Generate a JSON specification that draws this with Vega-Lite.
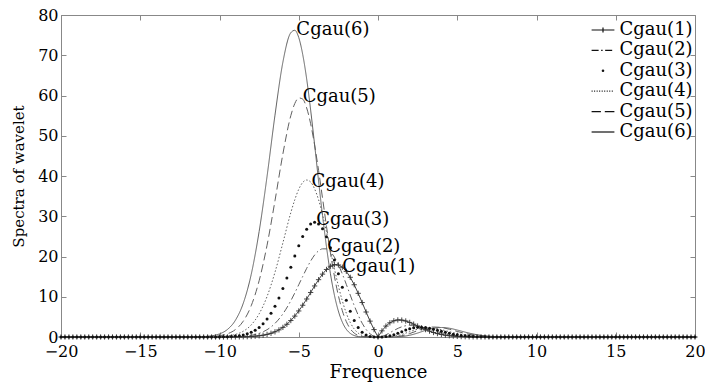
{
"$schema": "https://vega.github.io/schema/vega-lite/v6.json",
"width": 634,
"height": 322,
"autosize": {"type": "none"},
"padding": {"left": 61, "top": 15, "right": 10, "bottom": 48},
"background": "white",
"config": {
  "view": {"stroke": "#888", "strokeWidth": 1},
  "font": "DejaVu Serif",
  "axis": {"labelFont": "DejaVu Serif", "labelFontSize": 16, "labelColor": "#000", "titleFont": "DejaVu Serif", "titleFontWeight": "normal", "titleColor": "#000", "domainColor": "#888", "tickColor": "#888", "grid": false, "tickSize": -5, "labelPadding": 8}
},
"datasets": {
  "m": [
    {"x":-20,"c1":0,"c3":0},{"x":-19.75,"c1":0,"c3":0},{"x":-19.5,"c1":0,"c3":0},{"x":-19.25,"c1":0,"c3":0},{"x":-19,"c1":0,"c3":0},{"x":-18.75,"c1":0,"c3":0},{"x":-18.5,"c1":0,"c3":0},{"x":-18.25,"c1":0,"c3":0},{"x":-18,"c1":0,"c3":0},{"x":-17.75,"c1":0,"c3":0},{"x":-17.5,"c1":0,"c3":0},{"x":-17.25,"c1":0,"c3":0},{"x":-17,"c1":0,"c3":0},{"x":-16.75,"c1":0,"c3":0},{"x":-16.5,"c1":0,"c3":0},{"x":-16.25,"c1":0,"c3":0},{"x":-16,"c1":0,"c3":0},{"x":-15.75,"c1":0,"c3":0},{"x":-15.5,"c1":0,"c3":0},{"x":-15.25,"c1":0,"c3":0},{"x":-15,"c1":0,"c3":0},{"x":-14.75,"c1":0,"c3":0},{"x":-14.5,"c1":0,"c3":0},{"x":-14.25,"c1":0,"c3":0},{"x":-14,"c1":0,"c3":0},{"x":-13.75,"c1":0,"c3":0},{"x":-13.5,"c1":0,"c3":0},{"x":-13.25,"c1":0,"c3":0},{"x":-13,"c1":0,"c3":0},{"x":-12.75,"c1":0,"c3":0},{"x":-12.5,"c1":0,"c3":0},{"x":-12.25,"c1":0,"c3":0},{"x":-12,"c1":0,"c3":0},{"x":-11.75,"c1":0,"c3":0},{"x":-11.5,"c1":0,"c3":0},{"x":-11.25,"c1":0,"c3":0},{"x":-11,"c1":0,"c3":0},{"x":-10.75,"c1":0,"c3":0},{"x":-10.5,"c1":0,"c3":0},{"x":-10.25,"c1":0,"c3":0.01},
    {"x":-10,"c1":0,"c3":0.03},{"x":-9.75,"c1":0,"c3":0.05},{"x":-9.5,"c1":0.01,"c3":0.08},{"x":-9.25,"c1":0.01,"c3":0.14},{"x":-9,"c1":0.02,"c3":0.22},{"x":-8.75,"c1":0.03,"c3":0.34},{"x":-8.5,"c1":0.05,"c3":0.52},{"x":-8.25,"c1":0.08,"c3":0.79},{"x":-8,"c1":0.13,"c3":1.16},{"x":-7.75,"c1":0.2,"c3":1.67},{"x":-7.5,"c1":0.3,"c3":2.37},{"x":-7.25,"c1":0.44,"c3":3.28},{"x":-7,"c1":0.65,"c3":4.45},{"x":-6.75,"c1":0.92,"c3":5.9},{"x":-6.5,"c1":1.29,"c3":7.65},{"x":-6.25,"c1":1.77,"c3":9.72},{"x":-6,"c1":2.39,"c3":12.06},{"x":-5.75,"c1":3.16,"c3":14.66},{"x":-5.5,"c1":4.09,"c3":17.36},{"x":-5.25,"c1":5.19,"c3":20.1},{"x":-5,"c1":6.47,"c3":22.7},{"x":-4.75,"c1":7.89,"c3":25.0},{"x":-4.5,"c1":9.44,"c3":26.8},{"x":-4.25,"c1":11.06,"c3":28.05},{"x":-4,"c1":12.68,"c3":28.5},{"x":-3.75,"c1":14.24,"c3":28.1},{"x":-3.5,"c1":15.62,"c3":26.9},{"x":-3.25,"c1":16.78,"c3":24.9},{"x":-3,"c1":17.58,"c3":22.2},{"x":-2.75,"c1":17.97,"c3":19.1},{"x":-2.5,"c1":17.89,"c3":15.7},{"x":-2.25,"c1":17.34,"c3":12.33},{"x":-2,"c1":16.31,"c3":9.16},{"x":-1.75,"c1":14.83,"c3":6.38},{"x":-1.5,"c1":12.98,"c3":4.1},{"x":-1.25,"c1":10.85,"c3":2.38},{"x":-1,"c1":8.56,"c3":1.2},{"x":-0.75,"c1":6.21,"c3":0.49},{"x":-0.5,"c1":3.94,"c3":0.14},{"x":-0.25,"c1":1.84,"c3":0.02},{"x":0,"c1":0,"c3":0},{"x":0.25,"c1":1.53,"c3":0.01},{"x":0.5,"c1":2.71,"c3":0.1},{"x":0.75,"c1":3.53,"c3":0.28},{"x":1,"c1":4.03,"c3":0.57},{"x":1.25,"c1":4.24,"c3":0.93},{"x":1.5,"c1":4.2,"c3":1.33},{"x":1.75,"c1":3.98,"c3":1.71},{"x":2,"c1":3.62,"c3":2.04},{"x":2.25,"c1":3.19,"c3":2.27},{"x":2.5,"c1":2.73,"c3":2.4},{"x":2.75,"c1":2.27,"c3":2.41},{"x":3,"c1":1.84,"c3":2.33},{"x":3.25,"c1":1.46,"c3":2.16},{"x":3.5,"c1":1.12,"c3":1.93},{"x":3.75,"c1":0.85,"c3":1.68},{"x":4,"c1":0.63,"c3":1.41},{"x":4.25,"c1":0.45,"c3":1.15},{"x":4.5,"c1":0.32,"c3":0.91},{"x":4.75,"c1":0.22,"c3":0.7},{"x":5,"c1":0.15,"c3":0.53},{"x":5.25,"c1":0.1,"c3":0.39},{"x":5.5,"c1":0.07,"c3":0.28},{"x":5.75,"c1":0.04,"c3":0.19},{"x":6,"c1":0.03,"c3":0.13},{"x":6.25,"c1":0.02,"c3":0.09},{"x":6.5,"c1":0.01,"c3":0.06},{"x":6.75,"c1":0.01,"c3":0.04},{"x":7,"c1":0,"c3":0.02},
    {"x":7.25,"c1":0,"c3":0.01},{"x":7.5,"c1":0,"c3":0},{"x":7.75,"c1":0,"c3":0},{"x":8,"c1":0,"c3":0},{"x":8.25,"c1":0,"c3":0},{"x":8.5,"c1":0,"c3":0},{"x":8.75,"c1":0,"c3":0},{"x":9,"c1":0,"c3":0},{"x":9.25,"c1":0,"c3":0},{"x":9.5,"c1":0,"c3":0},{"x":9.75,"c1":0,"c3":0},{"x":10,"c1":0,"c3":0},{"x":10.25,"c1":0,"c3":0},{"x":10.5,"c1":0,"c3":0},{"x":10.75,"c1":0,"c3":0},{"x":11,"c1":0,"c3":0},{"x":11.25,"c1":0,"c3":0},{"x":11.5,"c1":0,"c3":0},{"x":11.75,"c1":0,"c3":0},{"x":12,"c1":0,"c3":0},{"x":12.25,"c1":0,"c3":0},{"x":12.5,"c1":0,"c3":0},{"x":12.75,"c1":0,"c3":0},{"x":13,"c1":0,"c3":0},{"x":13.25,"c1":0,"c3":0},{"x":13.5,"c1":0,"c3":0},{"x":13.75,"c1":0,"c3":0},{"x":14,"c1":0,"c3":0},{"x":14.25,"c1":0,"c3":0},{"x":14.5,"c1":0,"c3":0},{"x":14.75,"c1":0,"c3":0},{"x":15,"c1":0,"c3":0},{"x":15.25,"c1":0,"c3":0},{"x":15.5,"c1":0,"c3":0},{"x":15.75,"c1":0,"c3":0},{"x":16,"c1":0,"c3":0},{"x":16.25,"c1":0,"c3":0},{"x":16.5,"c1":0,"c3":0},{"x":16.75,"c1":0,"c3":0},{"x":17,"c1":0,"c3":0},{"x":17.25,"c1":0,"c3":0},{"x":17.5,"c1":0,"c3":0},{"x":17.75,"c1":0,"c3":0},{"x":18,"c1":0,"c3":0},{"x":18.25,"c1":0,"c3":0},{"x":18.5,"c1":0,"c3":0},{"x":18.75,"c1":0,"c3":0},{"x":19,"c1":0,"c3":0},{"x":19.25,"c1":0,"c3":0},{"x":19.5,"c1":0,"c3":0},{"x":19.75,"c1":0,"c3":0},{"x":20,"c1":0,"c3":0}
  ],
  "l": [
    {"x":-20,"c2":0,"c4":0,"c5":0,"c6":0},
    {"x":-12,"c2":0,"c4":0,"c5":0,"c6":0.01},
    {"x":-11.5,"c2":0,"c4":0,"c5":0.01,"c6":0.03},
    {"x":-11,"c2":0,"c4":0.01,"c5":0.04,"c6":0.1},
    {"x":-10.5,"c2":0,"c4":0.03,"c5":0.11,"c6":0.29},
    {"x":-10,"c2":0.01,"c4":0.1,"c5":0.31,"c6":0.77},
    {"x":-9.5,"c2":0.03,"c4":0.26,"c5":0.79,"c6":1.87},
    {"x":-9,"c2":0.07,"c4":0.63,"c5":1.84,"c6":4.14},
    {"x":-8.5,"c2":0.18,"c4":1.43,"c5":3.94,"c6":8.39},
    {"x":-8,"c2":0.41,"c4":3.0,"c5":7.76,"c6":15.53},
    {"x":-7.5,"c2":0.9,"c4":5.75,"c5":13.97,"c6":26.2},
    {"x":-7,"c2":1.81,"c4":10.06,"c5":22.8,"c6":39.9},
    {"x":-6.5,"c2":3.37,"c4":16.08,"c5":33.85,"c6":55.1},
    {"x":-6,"c2":5.75,"c4":23.4,"c5":45.5,"c6":68.3},
    {"x":-5.5,"c2":9.02,"c4":30.9,"c5":55.0,"c6":75.6},
    {"x":-5.25,"c2":10.94,"c4":34.1,"c5":58.0,"c6":76.2},
    {"x":-5,"c2":12.99,"c4":36.7,"c5":59.4,"c6":74.4},
    {"x":-4.75,"c2":15.04,"c4":38.4,"c5":59.1,"c6":70.2},
    {"x":-4.5,"c2":17.05,"c4":39.0,"c5":56.9,"c6":64.1},
    {"x":-4.25,"c2":18.86,"c4":38.5,"c5":53.0,"c6":56.4},
    {"x":-4,"c2":20.37,"c4":36.8,"c5":47.7,"c6":47.8},
    {"x":-3.75,"c2":21.4,"c4":34.1,"c5":41.4,"c6":38.8},
    {"x":-3.5,"c2":21.9,"c4":30.4,"c5":34.5,"c6":30.2},
    {"x":-3.25,"c2":21.9,"c4":26.1,"c5":27.5,"c6":22.4},
    {"x":-3,"c2":21.2,"c4":21.5,"c5":20.9,"c6":15.7},
    {"x":-2.75,"c2":19.83,"c4":16.96,"c5":15.1,"c6":10.4},
    {"x":-2.5,"c2":17.96,"c4":12.69,"c5":10.28,"c6":6.43},
    {"x":-2.25,"c2":15.66,"c4":8.97,"c5":6.53,"c6":3.68},
    {"x":-2,"c2":13.08,"c4":5.92,"c5":3.83,"c6":1.92},
    {"x":-1.75,"c2":10.41,"c4":3.61,"c5":2.04,"c6":0.9},
    {"x":-1.5,"c2":7.81,"c4":1.99,"c5":0.97,"c6":0.36},
    {"x":-1.25,"c2":5.44,"c4":0.96,"c5":0.39,"c6":0.12},
    {"x":-1,"c2":3.43,"c4":0.39,"c5":0.13,"c6":0.03},
    {"x":-0.75,"c2":1.87,"c4":0.12,"c5":0.03,"c6":0.01},
    {"x":-0.5,"c2":0.79,"c4":0.02,"c5":0,"c6":0},
    {"x":-0.25,"c2":0.18,"c4":0,"c5":0,"c6":0},
    {"x":0,"c2":0,"c4":0,"c5":0,"c6":0},
    {"x":0.25,"c2":0.15,"c4":0,"c5":0,"c6":0},
    {"x":0.5,"c2":0.54,"c4":0.01,"c5":0,"c6":0},
    {"x":0.75,"c2":1.06,"c4":0.07,"c5":0.02,"c6":0},
    {"x":1,"c2":1.62,"c4":0.18,"c5":0.06,"c6":0.02},
    {"x":1.5,"c2":2.53,"c4":0.64,"c5":0.31,"c6":0.12},
    {"x":2,"c2":2.91,"c4":1.32,"c5":0.85,"c6":0.43},
    {"x":2.5,"c2":2.74,"c4":1.94,"c5":1.57,"c6":0.98},
    {"x":3,"c2":2.22,"c4":2.26,"c5":2.19,"c6":1.65},
    {"x":3.5,"c2":1.58,"c4":2.19,"c5":2.48,"c6":2.17},
    {"x":4,"c2":1.01,"c4":1.82,"c5":2.36,"c6":2.36},
    {"x":4.5,"c2":0.58,"c4":1.32,"c5":1.93,"c6":2.18},
    {"x":5,"c2":0.3,"c4":0.86,"c5":1.38,"c6":1.73},
    {"x":5.5,"c2":0.14,"c4":0.49,"c5":0.88,"c6":1.21},
    {"x":6,"c2":0.06,"c4":0.26,"c5":0.5,"c6":0.75},
    {"x":6.5,"c2":0.03,"c4":0.12,"c5":0.26,"c6":0.42},
    {"x":7,"c2":0.01,"c4":0.05,"c5":0.12,"c6":0.21},
    {"x":7.5,"c2":0,"c4":0.02,"c5":0.05,"c6":0.09},
    {"x":8,"c2":0,"c4":0.01,"c5":0.02,"c6":0.04},
    {"x":8.5,"c2":0,"c4":0,"c5":0.01,"c6":0.01},
    {"x":9,"c2":0,"c4":0,"c5":0,"c6":0},
    {"x":20,"c2":0,"c4":0,"c5":0,"c6":0}
  ],
  "lab": [
    {"x":-5.15,"y":76.3,"t":"Cgau(6)"},
    {"x":-4.75,"y":59.7,"t":"Cgau(5)"},
    {"x":-4.2,"y":38.6,"t":"Cgau(4)"},
    {"x":-3.9,"y":29,"t":"Cgau(3)"},
    {"x":-3.2,"y":22.4,"t":"Cgau(2)"},
    {"x":-2.26,"y":17.4,"t":"Cgau(1)"}
  ],
  "leg": [
    {"s":"Cgau(1)"},{"s":"Cgau(2)"},{"s":"Cgau(3)"},{"s":"Cgau(4)"},{"s":"Cgau(5)"},{"s":"Cgau(6)"}
  ]
},
"resolve": {"axis": {"x": "independent", "y": "independent"}},
"layer": [
  {
    "data": {"name": "l"},
    "transform": [{"fold": ["c2","c4","c5","c6"], "as": ["s","v"]}],
    "mark": {"type": "line", "interpolate": "monotone", "strokeWidth": 1, "color": "#606060"},
    "encoding": {
      "x": {"field": "x", "type": "quantitative", "scale": {"domain": [-20,20], "nice": false, "zero": false},
            "axis": {"values": [-20,-15,-10,-5,0,5,10,15,20], "title": "Frequence", "titleFontSize": 18, "titlePadding": 4, "labelPadding": 11, "labelFlush": false}},
      "y": {"field": "v", "type": "quantitative", "scale": {"domain": [0,80], "nice": false},
            "axis": {"values": [0,10,20,30,40,50,60,70,80], "title": "Spectra of wavelet", "titleFontSize": 15, "titlePadding": 11}},
      "strokeDash": {"field": "s", "type": "nominal", "scale": {"domain": ["c2","c4","c5","c6"], "range": [[7,3,1.5,3],[1.5,2],[8,4],[1,0]]}, "legend": null}
    }
  },
  {
    "data": {"name": "m"},
    "mark": {"type": "line", "strokeWidth": 1, "color": "#444"},
    "encoding": {
      "x": {"field": "x", "type": "quantitative", "scale": {"domain": [-20,20], "nice": false, "zero": false}, "axis": null},
      "y": {"field": "c1", "type": "quantitative", "scale": {"domain": [0,80], "nice": false}, "axis": null}
    }
  },
  {
    "data": {"name": "m"},
    "mark": {"type": "point", "shape": "M-1,0H1M0,-1V1", "filled": false, "size": 28, "strokeWidth": 0.9, "color": "#333", "opacity": 1},
    "encoding": {
      "x": {"field": "x", "type": "quantitative", "scale": {"domain": [-20,20], "nice": false, "zero": false},
            "axis": {"orient": "top", "values": [-20,-15,-10,-5,0,5,10,15,20], "labels": false, "title": null, "domain": false}},
      "y": {"field": "c1", "type": "quantitative", "scale": {"domain": [0,80], "nice": false},
            "axis": {"orient": "right", "values": [0,10,20,30,40,50,60,70,80], "labels": false, "title": null, "domain": false}}
    }
  },
  {
    "data": {"name": "m"},
    "mark": {"type": "point", "shape": "circle", "filled": true, "size": 9, "color": "#111", "opacity": 1},
    "encoding": {
      "x": {"field": "x", "type": "quantitative", "scale": {"domain": [-20,20], "nice": false, "zero": false}, "axis": null},
      "y": {"field": "c3", "type": "quantitative", "scale": {"domain": [0,80], "nice": false}, "axis": null}
    }
  },
  {
    "data": {"name": "lab"},
    "mark": {"type": "text", "align": "left", "baseline": "middle", "font": "DejaVu Serif", "fontSize": 18, "color": "#000"},
    "encoding": {
      "x": {"field": "x", "type": "quantitative", "scale": {"domain": [-20,20], "nice": false, "zero": false}, "axis": null},
      "y": {"field": "y", "type": "quantitative", "scale": {"domain": [0,80], "nice": false}, "axis": null},
      "text": {"field": "t"}
    }
  },
  {
    "data": {"name": "leg"},
    "transform": [{"filter": "false"}],
    "mark": {"type": "point", "filled": false, "color": "#333"},
    "encoding": {
      "shape": {"field": "s", "type": "nominal",
        "scale": {"domain": ["Cgau(1)","Cgau(2)","Cgau(3)","Cgau(4)","Cgau(5)","Cgau(6)"],
                  "range": ["M-1.9,0H1.9M0,-0.4V0.4",
                            "M-1.9,0H-0.73M-0.31,0H-0.06M0.36,0H1.53",
                            "M-0.12,0A0.12,0.12,0,1,0,0.12,0A0.12,0.12,0,1,0,-0.12,0Z",
                            "M-1.9,0h0.17M-1.48,0h0.17M-1.06,0h0.17M-0.64,0h0.17M-0.22,0h0.17M0.2,0h0.17M0.62,0h0.17M1.04,0h0.17M1.46,0h0.17",
                            "M-1.9,0H-0.35M0.3,0H1.9",
                            "M-1.9,0H1.9"]},
        "legend": {"orient": "none", "legendX": 533, "legendY": 6, "padding": 0, "title": null, "rowPadding": 2.4,
                   "labelFont": "DejaVu Serif", "labelFontSize": 18, "labelColor": "#000", "labelOffset": 7.5, "labelLimit": 0,
                   "symbolSize": 144, "symbolStrokeColor": "#111", "symbolStrokeWidth": 1.2, "symbolFillColor": "#111", "symbolOpacity": 1}
      }
    }
  }
]
}
